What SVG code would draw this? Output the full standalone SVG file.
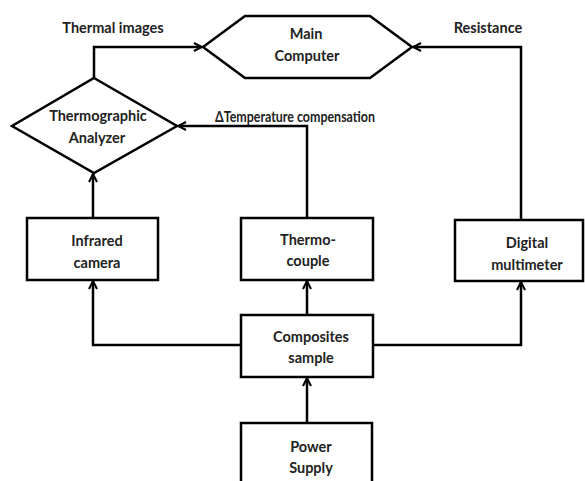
<svg xmlns="http://www.w3.org/2000/svg" width="585" height="481" viewBox="0 0 585 481">
<style>
.n{fill:#fff;stroke:#000;stroke-width:2.5}
.c{fill:none;stroke:#000;stroke-width:2.5}
text{font-family:Lato,"Noto Sans",sans-serif;font-weight:bold;font-size:14.5px;fill:#222;text-anchor:middle}
.l{text-anchor:start}
</style>
<defs>
<marker id="a" viewBox="0 0 10 10" refX="9" refY="5" markerWidth="10" markerHeight="10" markerUnits="userSpaceOnUse" orient="auto">
<path d="M1,1 L9,5 L1,9" fill="none" stroke="#000" stroke-width="2"/>
</marker>
</defs>
<g id="connectors">
<path class="c" d="M94,78 V47 H202" marker-end="url(#a)"/>
<path class="c" d="M521,220 V47 H413" marker-end="url(#a)"/>
<path class="c" d="M307,218 V126 H178" marker-end="url(#a)"/>
<path class="c" d="M93,218 V174" marker-end="url(#a)"/>
<path class="c" d="M241,345 H93 V281" marker-end="url(#a)"/>
<path class="c" d="M373,345 H521 V282" marker-end="url(#a)"/>
<path class="c" d="M307,315 V281" marker-end="url(#a)"/>
<path class="c" d="M307,423 V378" marker-end="url(#a)"/>
</g>
<g id="labels">
<text x="113" y="33">Thermal images</text>
<text x="488" y="33">Resistance</text>
<text class="l" x="215" y="122" textLength="160" lengthAdjust="spacingAndGlyphs">ΔTemperature compensation</text>
</g>
<g id="main-computer">
<polygon class="n" points="203,47 245,16 370,16 412,47 370,78 245,78"/>
<text x="306" y="39">Main</text>
<text x="307" y="61">Computer</text>
</g>
<g id="thermographic-analyzer">
<polygon class="n" points="94,78 177,126 94,173 12,126"/>
<text x="98" y="121">Thermographic</text>
<text x="97" y="143">Analyzer</text>
</g>
<g id="infrared-camera">
<rect class="n" x="27" y="218" width="131" height="62"/>
<text x="97" y="246">Infrared</text>
<text x="97" y="268">camera</text>
</g>
<g id="thermocouple">
<rect class="n" x="241" y="218" width="132" height="62"/>
<text x="308" y="245">Thermo-</text>
<text x="308" y="266">couple</text>
</g>
<g id="digital-multimeter">
<rect class="n" x="455" y="220" width="128" height="61"/>
<text x="527" y="248">Digital</text>
<text x="527" y="270">multimeter</text>
</g>
<g id="composites-sample">
<rect class="n" x="241" y="315" width="132" height="62"/>
<text x="311" y="342">Composites</text>
<text x="311" y="363">sample</text>
</g>
<g id="power-supply">
<rect class="n" x="241" y="423" width="131" height="70"/>
<text x="311" y="452">Power</text>
<text x="311" y="473">Supply</text>
</g>
</svg>
